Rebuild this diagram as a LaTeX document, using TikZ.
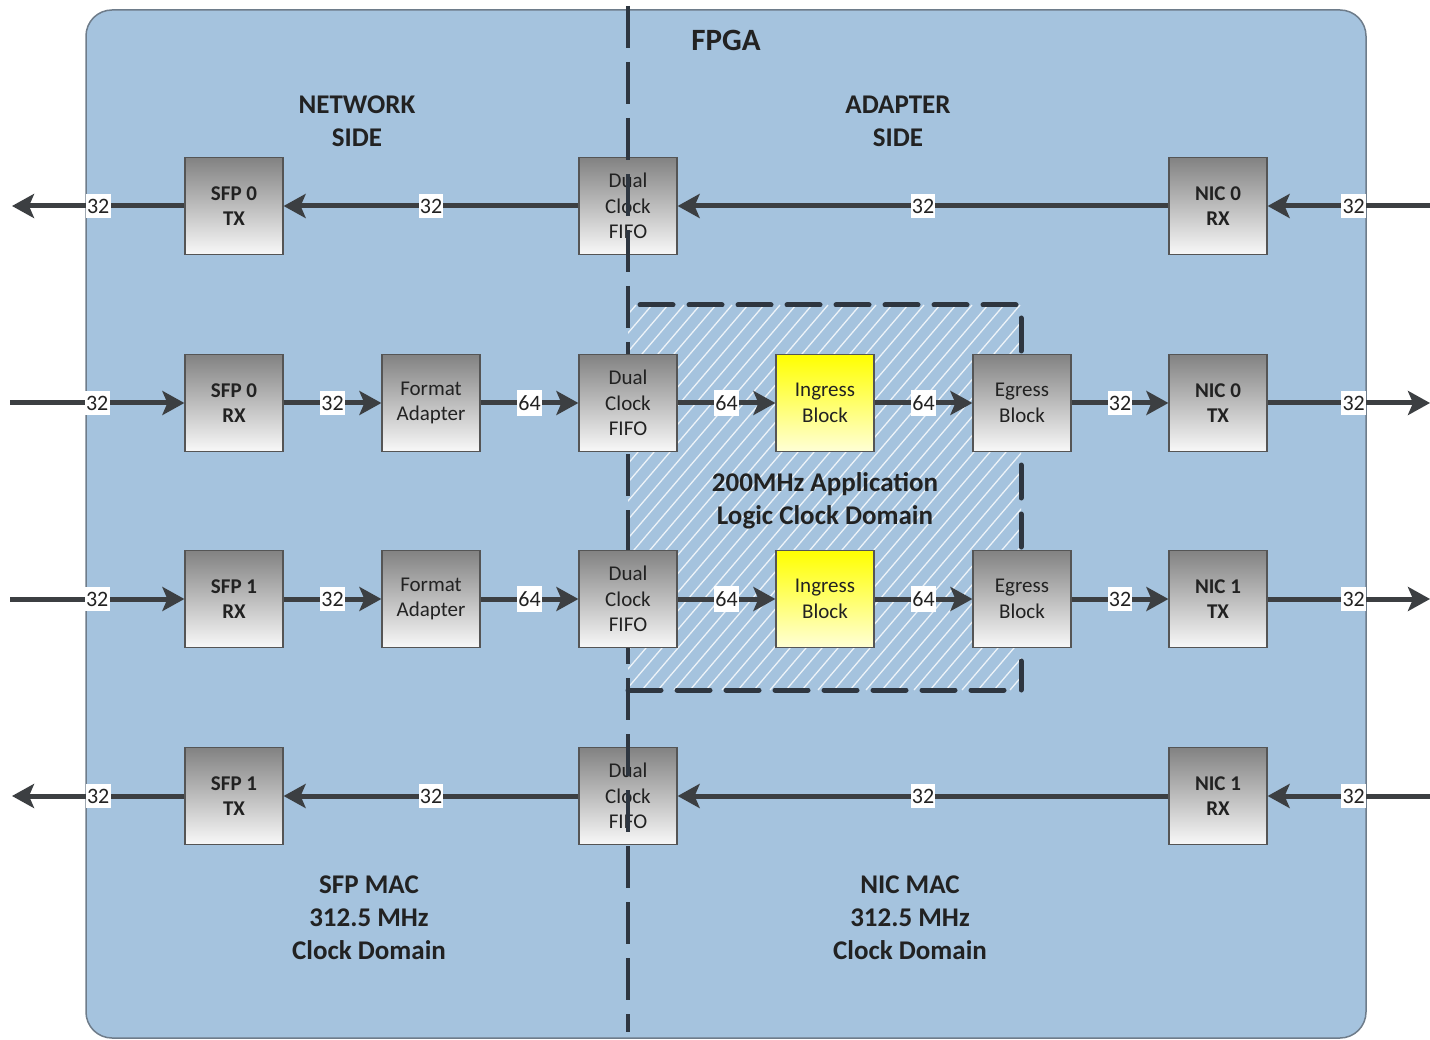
\documentclass[tikz,border=0pt]{standalone}
\usepackage{fontspec}
\setmainfont{Carlito}
\usetikzlibrary{arrows.meta}
\definecolor{bgblue}{HTML}{A5C3DE}
\definecolor{outerc}{HTML}{6E7C8A}
\definecolor{arrowc}{HTML}{3C3F42}
\definecolor{dashc}{HTML}{2E3640}
\definecolor{txt}{HTML}{222222}
\definecolor{boxtop}{HTML}{828282}
\definecolor{boxbot}{HTML}{F8F8F8}
\definecolor{boxline}{HTML}{555555}
\definecolor{ytop}{HTML}{FFFF00}
\definecolor{ybot}{HTML}{FFFFD6}
\tikzset{
  blk/.style={draw=boxline, line width=1.2pt, top color=boxtop, bottom color=boxbot,
    minimum width=98pt, minimum height=97pt, inner sep=0pt, align=center,
    font=\fontsize{21}{25.5}\selectfont, text=txt},
  bblk/.style={blk, font=\fontsize{21}{25.5}\selectfont\bfseries},
  yblk/.style={blk, top color=ytop, bottom color=ybot},
  flow/.style={draw=arrowc, line width=5pt, -{Stealth[length=22pt,width=24pt,inset=5pt]}},
  lbl/.style={fill=white, inner xsep=1.2pt, inner ysep=5pt, font=\fontsize{22}{24}\selectfont, text=txt},
  head/.style={align=center, font=\fontsize{27}{33}\selectfont\bfseries, text=txt},
  vdash/.style={draw=dashc, line width=4.5pt, dash pattern=on 42pt off 14pt},
  hdash/.style={draw=dashc, line width=5pt, dash pattern=on 33pt off 16pt, line cap=round}
}
\begin{document}
\begin{tikzpicture}[x=1pt,y=-1pt]
\useasboundingbox (0,0) rectangle (1430,1040);
\fill[white] (0,0) rectangle (1430,1040);
\draw[fill=bgblue, draw=outerc, line width=1.5pt, rounded corners=26pt] (86,10) rectangle (1366,1038);

% hatched application domain
\begin{scope}
\clip (628,305) rectangle (1021,690);
\foreach \k in {0,...,47} \draw[white, line width=1.3pt, opacity=0.8] ({290+16*\k},690) -- ++(330,-385);
\end{scope}

% FIFO boxes crossed by the boundary line
\node[blk] (f1) at (628,206) {Dual\\Clock\\FIFO};
\node[blk] (f4) at (628,796) {Dual\\Clock\\FIFO};

% clock-domain boundary
\draw[vdash] (628,6) -- (628,1032);
\draw[hdash] (640,305) -- (1018,305);
\draw[hdash] (1021,318) -- (1021,690);
\draw[hdash] (1004,690) -- (628,690);

% row 1
\node[bblk] (s0tx) at (234,206) {SFP 0\\TX};
\node[bblk] (n0rx) at (1218,206) {NIC 0\\RX};
% row 2
\node[bblk] (s0rx) at (234,403) {SFP 0\\RX};
\node[blk] (fa0) at (431,403) {Format\\Adapter};
\node[blk] (f2) at (628,403) {Dual\\Clock\\FIFO};
\node[yblk] (ig0) at (825,403) {Ingress\\Block};
\node[blk] (eg0) at (1022,403) {Egress\\Block};
\node[bblk] (n0tx) at (1218,403) {NIC 0\\TX};
% row 3
\node[bblk] (s1rx) at (234,599) {SFP 1\\RX};
\node[blk] (fa1) at (431,599) {Format\\Adapter};
\node[blk] (f3) at (628,599) {Dual\\Clock\\FIFO};
\node[yblk] (ig1) at (825,599) {Ingress\\Block};
\node[blk] (eg1) at (1022,599) {Egress\\Block};
\node[bblk] (n1tx) at (1218,599) {NIC 1\\TX};
% row 4
\node[bblk] (s1tx) at (234,796) {SFP 1\\TX};
\node[bblk] (n1rx) at (1218,796) {NIC 1\\RX};

% outside ends
\coordinate (l1) at (12,206);
\coordinate (r1) at (1430,206);
\coordinate (l2) at (10,403);
\coordinate (r2) at (1430,403);
\coordinate (l3) at (10,599);
\coordinate (r3) at (1430,599);
\coordinate (l4) at (12,796);
\coordinate (r4) at (1430,796);

% row 1 connectors
\draw[flow] (s0tx.west) -- node[lbl]{32} (l1);
\draw[flow] (f1.west) -- node[lbl]{32} (s0tx.east);
\draw[flow] (n0rx.west) -- node[lbl]{32} (f1.east);
\draw[flow] (r1) -- node[lbl,pos=0.47]{32} (n0rx.east);
% row 2 connectors
\draw[flow] (l2) -- node[lbl]{32} (s0rx.west);
\draw[flow] (s0rx.east) -- node[lbl]{32} (fa0.west);
\draw[flow] (fa0.east) -- node[lbl]{64} (f2.west);
\draw[flow] (f2.east) -- node[lbl]{64} (ig0.west);
\draw[flow] (ig0.east) -- node[lbl]{64} (eg0.west);
\draw[flow] (eg0.east) -- node[lbl]{32} (n0tx.west);
\draw[flow] (n0tx.east) -- node[lbl,pos=0.53]{32} (r2);
% row 3 connectors
\draw[flow] (l3) -- node[lbl]{32} (s1rx.west);
\draw[flow] (s1rx.east) -- node[lbl]{32} (fa1.west);
\draw[flow] (fa1.east) -- node[lbl]{64} (f3.west);
\draw[flow] (f3.east) -- node[lbl]{64} (ig1.west);
\draw[flow] (ig1.east) -- node[lbl]{64} (eg1.west);
\draw[flow] (eg1.east) -- node[lbl]{32} (n1tx.west);
\draw[flow] (n1tx.east) -- node[lbl,pos=0.53]{32} (r3);
% row 4 connectors
\draw[flow] (s1tx.west) -- node[lbl]{32} (l4);
\draw[flow] (f4.west) -- node[lbl]{32} (s1tx.east);
\draw[flow] (n1rx.west) -- node[lbl]{32} (f4.east);
\draw[flow] (r4) -- node[lbl,pos=0.47]{32} (n1rx.east);

% titles
\node[head, font=\fontsize{31}{36}\selectfont\bfseries] (fpga) at (726,40) {FPGA};
\node[head] (net) at (357,121) {NETWORK\\SIDE};
\node[head] (adp) at (898,121) {ADAPTER\\SIDE};
\node[head] (app) at (825,501) {200MHz Application\\Logic Clock Domain};
\node[head] (sfpmac) at (369,918) {SFP MAC\\312.5 MHz\\Clock Domain};
\node[head] (nicmac) at (910,918) {NIC MAC\\312.5 MHz\\Clock Domain};
\end{tikzpicture}
\end{document}
